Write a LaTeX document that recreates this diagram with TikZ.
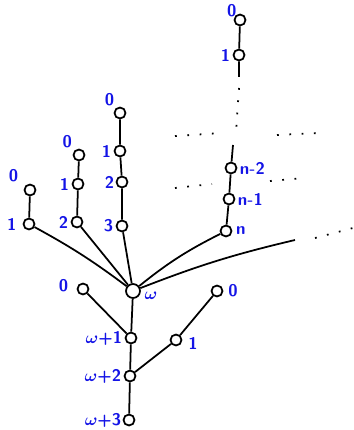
\documentclass[tikz,border=0pt]{standalone}
\usepackage{tikz}
\usetikzlibrary{positioning}
\definecolor{inkblue}{RGB}{20,20,230}
\tikzset{
  pt/.style={
    circle,
    draw=black, line width=1.5pt,
    inner sep=0pt,
    minimum size=0.33cm},
  bigpt/.style={pt, minimum size=0.42cm},
  lbl/.style={
    text=inkblue,
    font=\sffamily\bfseries\boldmath\Large,
    inner sep=1pt},
  edge/.style={draw, line width=1.5pt},
  gap/.style={draw, line width=1.5pt, dash pattern=on 1.5pt off 9pt},
}

\begin{document}
\begin{tikzpicture}[x=0.03cm, y=-0.03cm]
  \useasboundingbox (0,0) rectangle (353,430);
  % bottom part
  \node[bigpt] (w) at (133,291) {};
  \node[pt] (w1) at (131,338) {};
  \node[pt] (w2) at (130,376) {};
  \node[pt] (w3) at (129,420) {};
  \node[pt] (l0) at (83,289) {};
  \node[pt] (r0) at (217,291) {};
  \node[pt] (r1) at (176,340) {};
  \node[lbl, right=2pt of w, yshift=-4pt] (lw) {$\omega$};
  \node[lbl, left=1pt of w1] (lw1) {$\omega$+1};
  \node[lbl, left=1pt of w2] (lw2) {$\omega$+2};
  \node[lbl, left=0pt of w3] (lw3) {$\omega$+3};
  \node[lbl, left=6pt of l0, yshift=3pt] (ll0) {0};
  \node[lbl, right=3pt of r0] (lr0) {0};
  \node[lbl, right=4pt of r1, yshift=-3pt] (lr1) {1};
  \draw[edge] (l0) -- (w1);
  \draw[edge] (w) -- (w1);
  \draw[edge] (w1) -- (w2);
  \draw[edge] (r0) -- (r1);
  \draw[edge] (r1) -- (w2);
  \draw[edge] (w2) -- (w3);
  % chains of length 2, 3, 4
  \node[pt] (a0) at (30,190) {};
  \node[pt] (a1) at (29,224) {};
  \node[pt] (b0) at (79,155) {};
  \node[pt] (b1) at (78,184) {};
  \node[pt] (b2) at (77,222) {};
  \node[pt] (c0) at (120,113) {};
  \node[pt] (c1) at (120,151) {};
  \node[pt] (c2) at (122,182) {};
  \node[pt] (c3) at (122,226) {};
  \node[lbl, above left=2pt and 5pt of a0] (la0) {0};
  \node[lbl, left=4pt of a1] (la1) {1};
  \node[lbl, above left=1pt and 1pt of b0] (lb0) {0};
  \node[lbl, left=1pt of b1] (lb1) {1};
  \node[lbl, left=1pt of b2] (lb2) {2};
  \node[lbl, above left=1pt and 0pt of c0] (lc0) {0};
  \node[lbl, left=1pt of c1] (lc1) {1};
  \node[lbl, left=0pt of c2] (lc2) {2};
  \node[lbl, left=1pt of c3] (lc3) {3};
  \draw[edge] (a0) -- (a1);
  \draw[edge] (b0) -- (b1) -- (b2);
  \draw[edge] (c0) -- (c1) -- (c2) -- (c3);
  \draw[edge] (a1) to[bend left=4] (w);
  \draw[edge] (b2) -- (w);
  \draw[edge] (c3) -- (w);
  % the long chain
  \node[pt] (t0) at (240,20) {};
  \node[pt] (t1) at (239,55) {};
  \node[pt] (n2) at (231,168) {};
  \node[pt] (n1) at (229,199) {};
  \node[pt] (n0) at (226,231) {};
  \node[lbl, above left=-2pt and -2pt of t0] (lt0) {0};
  \node[lbl, left=1pt of t1] (lt1) {1};
  \node[lbl, right=1pt of n2] (ln2) {n-2};
  \node[lbl, right=1pt of n1] (ln1) {n-1};
  \node[lbl, right=2pt of n0] (ln0) {n};
  \coordinate (t1end) at (239,77);
  \coordinate (n2top) at (233,145);
  \coordinate (wend) at (295,240);
  \draw[edge] (t0) -- (t1) -- (t1end);
  \draw[gap] (239,88) -- (236,132);
  \draw[edge] (n2top) -- (n2);
  \draw[edge] (n2) -- (n1) -- (n0);
  \draw[edge] (n0) to[bend right=6] (w);
  \draw[edge] (w) to[bend left=4] (wend);
  % limit levels
  \draw[gap] (175,136) -- (222,133);
  \draw[gap] (277,135) -- (318,133);
  \draw[gap] (175,188) -- (212,184);
  \draw[gap] (270,181) -- (305,178);
  \draw[gap] (315,238) -- (353,228);
\end{tikzpicture}
\end{document}
